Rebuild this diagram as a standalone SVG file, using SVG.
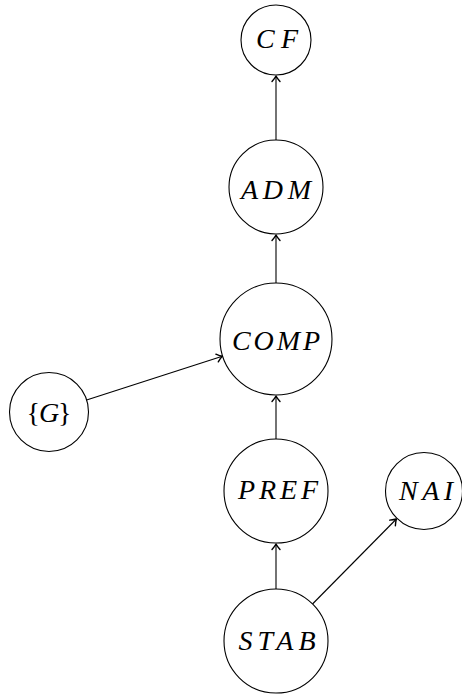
<svg xmlns="http://www.w3.org/2000/svg" width="462" height="694" viewBox="0 0 462 694">
<style>
.node circle{fill:#fff;stroke:#000;stroke-width:1.1}
.node text{font-family:"Liberation Serif","DejaVu Serif",serif;font-style:italic;font-size:28px;text-anchor:middle;dominant-baseline:central;fill:#000}
.node text .up{font-style:normal}
.edge{stroke:#000;stroke-width:1.1;fill:none;marker-end:url(#arr)}
</style>
<defs>
<marker id="arr" markerUnits="userSpaceOnUse" markerWidth="12" markerHeight="12" viewBox="-8 -6 10 12" refX="0" refY="0" orient="auto">
<path d="M -5.5 -4 Q -2 -1 0 0 Q -2 1 -5.5 4" fill="none" stroke="#000" stroke-width="1.4" stroke-linecap="round" stroke-linejoin="round"/>
</marker>
</defs>
<g id="connectors">
<line class="edge" x1="276" y1="140" x2="276" y2="76"/>
<line class="edge" x1="276" y1="283" x2="276" y2="235"/>
<line class="edge" x1="276" y1="439" x2="276" y2="396"/>
<line class="edge" x1="276" y1="589" x2="276" y2="544"/>
<line class="edge" x1="86.6" y1="399.9" x2="222.3" y2="356.3"/>
<line class="edge" x1="312.5" y1="604" x2="396.4" y2="519"/>
</g>
<g id="CF" class="node"><circle cx="276" cy="40" r="35"/><text x="277" y="38" textLength="42" lengthAdjust="spacing">CF</text></g>
<g id="ADM" class="node"><circle cx="276" cy="187" r="47"/><text x="276" y="189" textLength="70" lengthAdjust="spacing">ADM</text></g>
<g id="COMP" class="node"><circle cx="276" cy="339" r="56"/><text x="276" y="340" textLength="88" lengthAdjust="spacing">COMP</text></g>
<g id="G" class="node"><circle cx="49" cy="412" r="39.5"/><text x="49" y="412" textLength="45" lengthAdjust="spacing"><tspan class="up">{</tspan>G<tspan class="up">}</tspan></text></g>
<g id="PREF" class="node"><circle cx="276" cy="491" r="52"/><text x="278" y="489" textLength="80" lengthAdjust="spacing">PREF</text></g>
<g id="NAI" class="node"><circle cx="424" cy="491" r="38.5"/><text x="426" y="490" textLength="54" lengthAdjust="spacing">NAI</text></g>
<g id="STAB" class="node"><circle cx="276" cy="641" r="52"/><text x="277" y="640" textLength="77" lengthAdjust="spacing">STAB</text></g>
</svg>
